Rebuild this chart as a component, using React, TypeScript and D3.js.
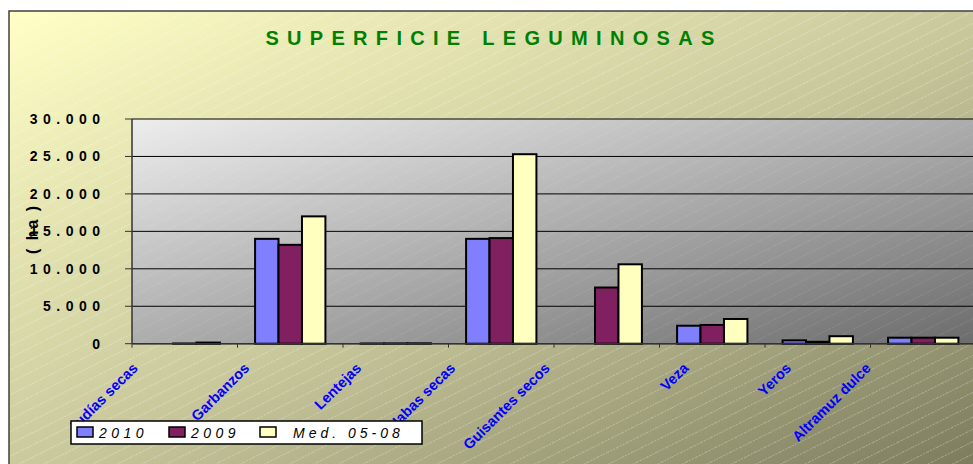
import React from "react";
import * as d3 from "d3";

const categories = ["Judías secas", "Garbanzos", "Lentejas", "Habas secas", "Guisantes secos", "Veza", "Yeros", "Altramuz dulce"];
const seriesNames = ["2010", "2009", "Med. 05-08"];
const values2010 = [0, 14000, 30, 14000, 0, 2400, 450, 800];
const values2009 = [30, 13200, 40, 14100, 7500, 2500, 250, 800];
const valuesMed = [150, 17000, 50, 25300, 10600, 3300, 1000, 800];
const yTicks = [0, 5000, 10000, 15000, 20000, 25000, 30000];
const seriesColors = ["#8080FF", "#802060", "#FFFFC0"];
const title = "SUPERFICIE LEGUMINOSAS";
const yTitle = "( ha )";

const W = 973;
const H = 464;
const FONT = "'Liberation Sans', Arial, sans-serif";

const plotLeft = 132;
const plotRight = 976;
const plotTop = 119;
const plotBottom = 343.7;

const fmt = d3.formatLocale({ thousands: ".", grouping: [3], decimal: ",", currency: ["", ""] }).format(",");

let ctx: CanvasRenderingContext2D | null = null;
function measure(text: string, font: string): number {
  if (!ctx) {
    const c = document.createElement("canvas");
    ctx = c.getContext("2d");
  }
  if (!ctx) return text.length * 7.5;
  ctx.font = font;
  return ctx.measureText(text).width;
}

export default function App() {
  const seriesValues = [values2010, values2009, valuesMed];
  const x = d3.scaleBand<string>().domain(categories).range([plotLeft, plotRight]).paddingInner(1.5 / 4.5).paddingOuter(0.75 / 4.5);
  const xs = d3.scaleBand<string>().domain(seriesNames).range([0, x.bandwidth()]);
  const y = d3.scaleLinear().domain([0, 30000]).range([plotBottom, plotTop]);
  const step = x.step();
  const boundaries = d3.range(categories.length + 1).map((i) => plotLeft + i * step);

  const labelSize = 14.5;
  const labelFont = `bold ${labelSize}px ${FONT}`;

  return (
    <div style={{ position: "fixed", left: 0, top: 0, width: W, height: H }}>
      <svg width={W} height={H} style={{ display: "block" }}>
        <defs>
          <linearGradient id="bgGrad" x1="0" y1="0" x2="1" y2="1">
            <stop offset="0" stopColor="#FFFFC6" />
            <stop offset="0.5" stopColor="#C9C89C" />
            <stop offset="1" stopColor="#78785A" />
          </linearGradient>
          <linearGradient id="plotGrad" x1="0" y1="0" x2="1" y2="1">
            <stop offset="0" stopColor="#EDEDED" />
            <stop offset="1" stopColor="#6C6C6C" />
          </linearGradient>
          <pattern id="stripes" width="11" height="11" patternUnits="userSpaceOnUse" patternTransform="rotate(-26.6)">
            <line x1="0" y1="5.5" x2="11" y2="5.5" stroke="#ffffff" strokeOpacity="0.35" strokeWidth="1" strokeDasharray="1.5 1.5" />
          </pattern>
          <pattern id="stripesFaint" width="11" height="11" patternUnits="userSpaceOnUse" patternTransform="rotate(-26.6)">
            <line x1="0" y1="5.5" x2="11" y2="5.5" stroke="#ffffff" strokeOpacity="0.12" strokeWidth="1" strokeDasharray="1.5 1.5" />
          </pattern>
        </defs>

        {/* chart area */}
        <rect x={9} y={11} width={990} height={470} fill="url(#bgGrad)" />
        <rect x={9} y={11} width={990} height={470} fill="url(#stripes)" />
        <rect x={9} y={11} width={990} height={470} fill="none" stroke="#404040" strokeWidth={1.5} />

        {/* title */}
        <text x={494} y={45} textAnchor="middle" fontFamily={FONT} fontWeight="bold" fontSize={20} letterSpacing={8.3} fill="#008000">
          {title}
        </text>

        {/* plot area */}
        <rect x={plotLeft} y={plotTop} width={plotRight - plotLeft} height={plotBottom - plotTop} fill="url(#plotGrad)" />
        <rect x={plotLeft} y={plotTop} width={plotRight - plotLeft} height={plotBottom - plotTop} fill="url(#stripesFaint)" />

        {/* gridlines */}
        {yTicks.map((t) => (
          <line key={"g" + t} x1={plotLeft} x2={plotRight} y1={y(t)} y2={y(t)} stroke="#000" strokeWidth={1} />
        ))}

        {/* bars */}
        {seriesNames.map((s, si) =>
          categories.map((c, ci) => {
            const v = seriesValues[si][ci];
            if (!v) return null;
            const bx = (x(c) as number) + (xs(s) as number);
            return (
              <rect
                key={s + c}
                x={bx}
                y={y(v)}
                width={xs.bandwidth()}
                height={plotBottom - y(v)}
                fill={seriesColors[si]}
                stroke="#000"
                strokeWidth={2}
              />
            );
          })
        )}

        {/* axes */}
        <line x1={plotLeft} x2={plotLeft} y1={plotTop} y2={plotBottom} stroke="#333" strokeWidth={1.5} />
        <line x1={plotLeft} x2={plotRight} y1={plotBottom} y2={plotBottom} stroke="#333" strokeWidth={1.5} />
        {yTicks.map((t) => (
          <line key={"yt" + t} x1={plotLeft - 7} x2={plotLeft} y1={y(t)} y2={y(t)} stroke="#333" strokeWidth={1} />
        ))}
        {boundaries.map((bx, i) => (
          <line key={"xt" + i} x1={bx} x2={bx} y1={plotBottom} y2={plotBottom + 4} stroke="#333" strokeWidth={1} />
        ))}

        {/* y tick labels */}
        {yTicks.map((t) => (
          <text
            key={"yl" + t}
            x={100 + 5.5}
            y={y(t) + 5}
            textAnchor="end"
            fontFamily={FONT}
            fontWeight="bold"
            fontSize={14}
            letterSpacing={5.5}
            fill="#000"
          >
            {fmt(t)}
          </text>
        ))}

        {/* y axis title */}
        <text
          transform={`translate(38,229) rotate(-90)`}
          textAnchor="middle"
          fontFamily={FONT}
          fontWeight="bold"
          fontSize={16}
          letterSpacing={2}
          fill="#000"
        >
          {yTitle}
        </text>

        {/* category labels */}
        {categories.map((c) => {
          const cx = (x(c) as number) + x.bandwidth() / 2;
          const L = measure(c, labelFont);
          const ax = cx - 10 - 0.4 * L;
          const ay = 369;
          return (
            <text
              key={"cl" + c}
              transform={`translate(${ax},${ay}) rotate(-45)`}
              textAnchor="end"
              fontFamily={FONT}
              fontWeight="bold"
              fontSize={labelSize}
              fill="#0000FF"
            >
              {c}
            </text>
          );
        })}

        {/* legend */}
        <rect x={71} y={421} width={351} height={23} fill="#FFFFFF" stroke="#000" strokeWidth={1.5} />
        {seriesNames.map((s, i) => {
          const lx = [77, 169, 260][i];
          const tx = [99, 191, 293][i];
          return (
            <g key={"lg" + s}>
              <rect x={lx} y={427} width={16} height={10} fill={seriesColors[i]} stroke="#000" strokeWidth={1.5} />
              <text x={tx} y={437.5} fontFamily={FONT} fontStyle="italic" fontSize={14} letterSpacing={i === 2 ? 4 : 4.5} fill="#000">
                {s}
              </text>
            </g>
          );
        })}
      </svg>
    </div>
  );
}
